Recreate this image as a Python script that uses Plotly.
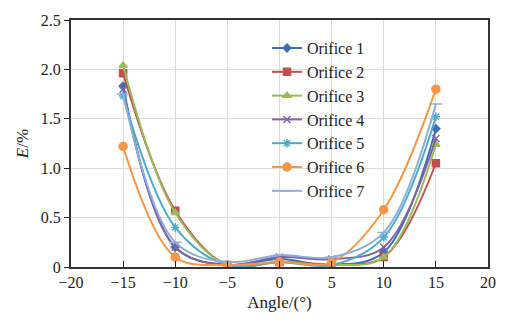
import plotly.graph_objects as go

angles = [-15, -10, -5, 0, 5, 10, 15]
names = ["Orifice 1", "Orifice 2", "Orifice 3", "Orifice 4", "Orifice 5", "Orifice 6", "Orifice 7"]
orifice1 = [1.83, 0.20, 0.02, 0.08, 0.02, 0.15, 1.40]
orifice2 = [1.96, 0.57, 0.02, 0.05, 0.03, 0.10, 1.05]
orifice3 = [2.04, 0.55, 0.02, 0.05, 0.02, 0.10, 1.24]
orifice4 = [1.80, 0.20, 0.02, 0.10, 0.08, 0.20, 1.30]
orifice5 = [1.73, 0.40, 0.02, 0.05, 0.02, 0.30, 1.52]
orifice6 = [1.22, 0.10, 0.02, 0.05, 0.05, 0.58, 1.80]
orifice7 = [1.75, 0.25, 0.05, 0.12, 0.10, 0.35, 1.65]
series = [orifice1, orifice2, orifice3, orifice4, orifice5, orifice6, orifice7]

colors = ["#3F6FB8", "#C0504D", "#9BBB59", "#8064A2", "#4BACC6", "#F79646", "#8EAEDC"]
symbols = ["diamond", "square", "triangle-up", "x-thin-open", "asterisk-open", "circle", "line-ew-open"]
sizes = [6, 7, 7, 7, 7, 8, 9]

fig = go.Figure()
for n, ys, c, s, sz in zip(names, series, colors, symbols, sizes):
    fig.add_trace(go.Scatter(
        x=angles, y=ys, name=n, mode="lines+markers",
        line=dict(color=c, width=2, shape="spline", smoothing=1.0),
        marker=dict(symbol=s, size=sz, color=c, line=dict(color=c, width=1.5)),
    ))

font_family = "Liberation Serif, Times New Roman, serif"
fig.update_layout(
    width=515, height=324,
    margin=dict(l=71, r=27, t=20, b=57),
    paper_bgcolor="white", plot_bgcolor="white",
    font=dict(family=font_family, size=16, color="#222"),
    showlegend=True,
    legend=dict(x=0.47, y=0.955, xanchor="left", yanchor="top",
                bgcolor="rgba(255,255,255,0)", font=dict(size=16, family=font_family),
                tracegroupgap=0, itemwidth=30),
    xaxis=dict(range=[-20, 20], tickvals=[-20, -15, -10, -5, 0, 5, 10, 15, 20],
               ticktext=["\u221220", "\u221215", "\u221210", "\u22125", "0", "5", "10", "15", "20"],
               showgrid=True, gridcolor="#DADADA", gridwidth=1,
               showline=True, linecolor="#333", linewidth=2, mirror=True,
               ticks="inside", ticklen=6, tickcolor="#222", zeroline=False,
               title=dict(text="Angle/(°)", font=dict(size=17), standoff=6)),
    yaxis=dict(range=[0, 2.5], tickvals=[0, 0.5, 1.0, 1.5, 2.0, 2.5],
               ticktext=["0", "0.5", "1.0", "1.5", "2.0", "2.5"],
               showgrid=True, gridcolor="#DADADA", gridwidth=1,
               showline=True, linecolor="#333", linewidth=2, mirror=True,
               ticks="outside", ticklen=5, tickcolor="#222", zeroline=False,
               title=dict(text="<i>E</i>/%", font=dict(size=17), standoff=8)),
)

fig.write_html("out.html")
